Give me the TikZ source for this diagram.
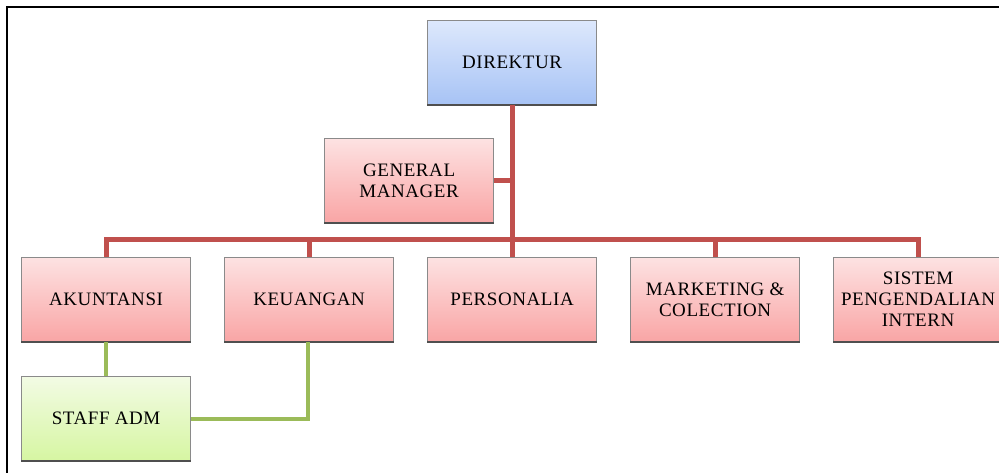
\documentclass[tikz,border=0pt]{standalone}
\usepackage{fontspec}
\setmainfont{Liberation Serif}[LetterSpace=3]
\begin{document}
\definecolor{redline}{HTML}{C0504D}
\definecolor{greenline}{HTML}{9BBB59}
\definecolor{pinktop}{HTML}{FDE2E2}
\definecolor{pinkbot}{HTML}{F9A5A5}
\definecolor{bluetop}{HTML}{DDE8FC}
\definecolor{bluebot}{HTML}{A7C3F5}
\definecolor{greentop}{HTML}{F2FBE4}
\definecolor{greenbot}{HTML}{D6F6A2}
\definecolor{boxedge}{HTML}{8A8A8A}
\definecolor{boxshadow}{HTML}{4F4F4F}
\begin{tikzpicture}[x=1bp,y=-1bp,
  unit/.style={anchor=north west, minimum width=169bp, minimum height=84bp,
    inner sep=0pt, align=center, draw=boxedge, line width=1.2bp,
    font=\fontsize{19bp}{21bp}\selectfont},
  pinkbox/.style={unit, top color=pinktop, bottom color=pinkbot},
  bluebox/.style={unit, top color=bluetop, bottom color=bluebot},
  greenbox/.style={unit, top color=greentop, bottom color=greenbot},
  redlink/.style={draw=redline, line width=5bp},
  greenlink/.style={draw=greenline, line width=4bp},
  shadowedge/.style={draw=boxshadow, line width=2.2bp},
  frameline/.style={draw=black, line width=2.2bp}]
  \useasboundingbox (0,0) rectangle (999,473);

  % outer frame (top and left edges)
  \draw[frameline] (7,480) -- (7,7) -- (1005,7);

  % connector junction on the bus
  \coordinate (bus) at (512,240);

  % boxes
  \node[bluebox]  (dir) at (427,20)  {DIREKTUR};
  \node[pinkbox]  (gm)  at (324,138) {GENERAL\\MANAGER};
  \node[pinkbox]  (ak)  at (21,257)  {AKUNTANSI};
  \node[pinkbox]  (ke)  at (224,257) {KEUANGAN};
  \node[pinkbox]  (pe)  at (427,257) {PERSONALIA};
  \node[pinkbox]  (ma)  at (630,257) {MARKETING \&\\COLECTION};
  \node[pinkbox]  (si)  at (833,257) {SISTEM\\PENGENDALIAN\\INTERN};
  \node[greenbox] (st)  at (21,376)  {STAFF ADM};

  % darker bottom edges
  \foreach \b in {dir,gm,ak,ke,pe,ma,si,st}
    \draw[shadowedge] (\b.south west) -- (\b.south east);

  % red hierarchy lines
  \draw[redlink] (dir.south) -- (dir.south |- bus);
  \draw[redlink] (gm.east) -- (gm.east -| dir.south);
  \draw[redlink, line join=miter] (ak.north) |- (bus) -| (si.north);
  \draw[redlink] (ke.north) -- (ke.north |- bus);
  \draw[redlink] (pe.north) -- (pe.north |- bus);
  \draw[redlink] (ma.north) -- (ma.north |- bus);

  % green staff lines
  \draw[greenlink] (ak.south) -- (st.north);
  \draw[greenlink, line join=miter] ([xshift=-1bp]ke.south) |- (st.east);
\end{tikzpicture}
\end{document}
